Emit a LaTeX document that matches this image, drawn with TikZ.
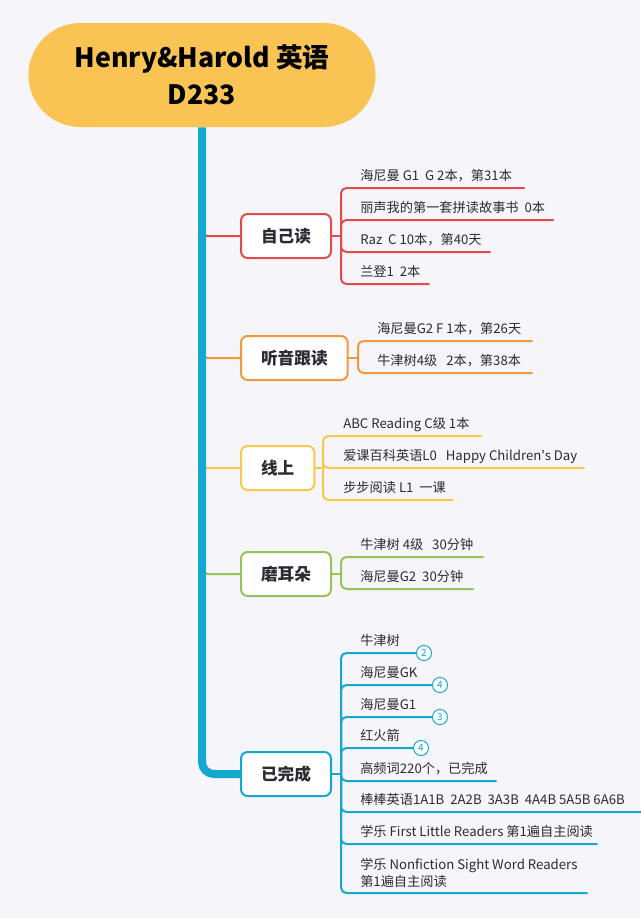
\documentclass[tikz,border=0pt]{standalone}
\usepackage{fontspec}
\setmainfont{Noto Sans CJK SC}[Ligatures=TeXOff]
\usepackage{tikz}
\usetikzlibrary{shapes.misc}
\definecolor{bgfond}{rgb}{0.96,0.96,0.98}
\definecolor{titlefill}{rgb}{0.98,0.77,0.33}
\definecolor{redbr}{rgb}{0.87,0.30,0.30}
\definecolor{orangebr}{rgb}{0.95,0.60,0.24}
\definecolor{yellowbr}{rgb}{0.97,0.79,0.30}
\definecolor{greenbr}{rgb}{0.60,0.76,0.35}
\definecolor{cyanbr}{rgb}{0.08,0.66,0.81}
\definecolor{inktext}{rgb}{0.17,0.17,0.20}

\begin{document}
\begin{tikzpicture}[line cap=round,line join=round,x=0.75pt,y=-0.75pt,
  box/.style={draw,fill=white,line width=1.5pt,rounded corners=5pt,minimum height=33pt,inner xsep=15pt,anchor=west,font=\fontsize{12.5}{14}\selectfont\bfseries,text=inktext},
  item/.style={anchor=base west,inner sep=0pt,font=\fontsize{9.9}{12.75}\selectfont,text=inktext},
  bar/.style={line width=1.5pt,rounded corners=4pt},
  badge/.style={circle,draw=cyanbr,fill=white,line width=0.75pt,minimum size=11.3pt,inner sep=0pt,text=cyanbr,font=\fontsize{7.5}{8}\selectfont}]

\fill[bgfond] (0,0) rectangle (640,918);
\useasboundingbox (0,0) rectangle (640,918);

\node[rounded rectangle,fill=titlefill,minimum width=267pt,minimum height=78pt,align=center,font=\fontsize{20}{27.75}\selectfont\bfseries,text=black] (title) at (202,75) {Henry\&Harold 英语\\D233};

% 自己读
\node[box,draw=redbr] (b1) at (240,236) {自己读};
\coordinate (t1) at (202,229);
\coordinate (j1) at (341,236);
\draw[bar,redbr] (t1) |- (b1.west);
\draw[bar,redbr] (b1.east) -- (j1);
\node[item] (r1) at (360,180) {海尼曼 G1\ \ G 2本，第31本};
\node[item] (r2) at (360,212) {丽声我的第一套拼读故事书\ \ 0本};
\node[item] (r3) at (360,244) {Raz\ \ C 10本，第40天};
\node[item] (r4) at (360,276) {兰登1\ \ 2本};
\coordinate (r1e) at (524,188);
\coordinate (r2e) at (553,220);
\coordinate (r3e) at (490,252);
\coordinate (r4e) at (429,284);
\draw[bar,redbr] (j1) |- (r1e);
\draw[bar,redbr] (j1) |- (r2e);
\draw[bar,redbr] (j1) |- (r3e);
\draw[bar,redbr] (j1) |- (r4e);

% 听音跟读
\node[box,draw=orangebr] (b2) at (240,358) {听音跟读};
\coordinate (t2) at (202,351);
\coordinate (j2) at (358,358);
\draw[bar,orangebr] (t2) |- (b2.west);
\draw[bar,orangebr] (b2.east) -- (j2);
\node[item] (o1) at (377,333) {海尼曼G2 F 1本，第26天};
\node[item] (o2) at (377,365) {牛津树4级\ \ \ 2本，第38本};
\coordinate (o1e) at (532,341);
\coordinate (o2e) at (532,373);
\draw[bar,orangebr] (j2) |- (o1e);
\draw[bar,orangebr] (j2) |- (o2e);

% 线上
\node[box,draw=yellowbr] (b3) at (240,468) {线上};
\coordinate (t3) at (202,461);
\coordinate (j3) at (323,468);
\draw[bar,yellowbr] (t3) |- (b3.west);
\draw[bar,yellowbr] (b3.east) -- (j3);
\node[item] (y1) at (343,428) {ABC Reading C级 1本};
\node[item] (y2) at (343,460) {爱课百科英语L0\ \ \ Happy Children's Day};
\node[item] (y3) at (343,492) {步步阅读 L1\ \ 一课};
\coordinate (y1e) at (481,436);
\coordinate (y2e) at (584,468);
\coordinate (y3e) at (453,500);
\draw[bar,yellowbr] (j3) |- (y1e);
\draw[bar,yellowbr] (j3) |- (y2e);
\draw[bar,yellowbr] (j3) |- (y3e);

% 磨耳朵
\node[box,draw=greenbr] (b4) at (240,574) {磨耳朵};
\coordinate (t4) at (202,567);
\coordinate (j4) at (341,574);
\draw[bar,greenbr] (t4) |- (b4.west);
\draw[bar,greenbr] (b4.east) -- (j4);
\node[item] (g1) at (360,549) {牛津树 4级\ \ \ 30分钟};
\node[item] (g2) at (360,581) {海尼曼G2\ \ 30分钟};
\coordinate (g1e) at (483,557);
\coordinate (g2e) at (473,589);
\draw[bar,greenbr] (j4) |- (g1e);
\draw[bar,greenbr] (j4) |- (g2e);

% 已完成
\node[box,draw=cyanbr] (b5) at (240,774) {已完成};
\coordinate (j5) at (341,774);
\draw[bar,cyanbr] (b5.east) -- (j5);
\node[item] (c1) at (360,645) {牛津树};
\node[item] (c2) at (360,677) {海尼曼GK};
\node[item] (c3) at (360,709) {海尼曼G1};
\node[item] (c4) at (360,740) {红火箭};
\node[item] (c5) at (360,773) {高频词220个，已完成};
\node[item] (c6) at (360,804) {棒棒英语1A1B\ \ 2A2B\ \ 3A3B\ \ 4A4B 5A5B 6A6B};
\node[item] (c7) at (360,836) {学乐 First Little Readers 第1遍自主阅读};
\node[item,anchor=west,align=left] (c8) at (360,872.5) {学乐 Nonfiction Sight Word Readers\\第1遍自主阅读};
\node[badge] (n1) at (424,653) {2};
\node[badge] (n2) at (440,685) {4};
\node[badge] (n3) at (440,717) {3};
\node[badge] (n4) at (421,748) {4};
\coordinate (c5e) at (496,781);
\coordinate (c6e) at (642,812);
\coordinate (c7e) at (597,844);
\coordinate (c8e) at (587,893);
\draw[bar,cyanbr] (j5) |- (n1.west);
\draw[bar,cyanbr] (j5) |- (n2.west);
\draw[bar,cyanbr] (j5) |- (n3.west);
\draw[bar,cyanbr] (j5) |- (n4.west);
\draw[bar,cyanbr] (j5) |- (c5e);
\draw[bar,cyanbr] (j5) |- (c6e);
\draw[bar,cyanbr] (j5) |- (c7e);
\draw[bar,cyanbr] (j5) |- (c8e);

% trunk
\draw[cyanbr,line width=6pt,line cap=butt,rounded corners=9pt] (title.south) |- (b5.west);

\end{tikzpicture}
\end{document}
